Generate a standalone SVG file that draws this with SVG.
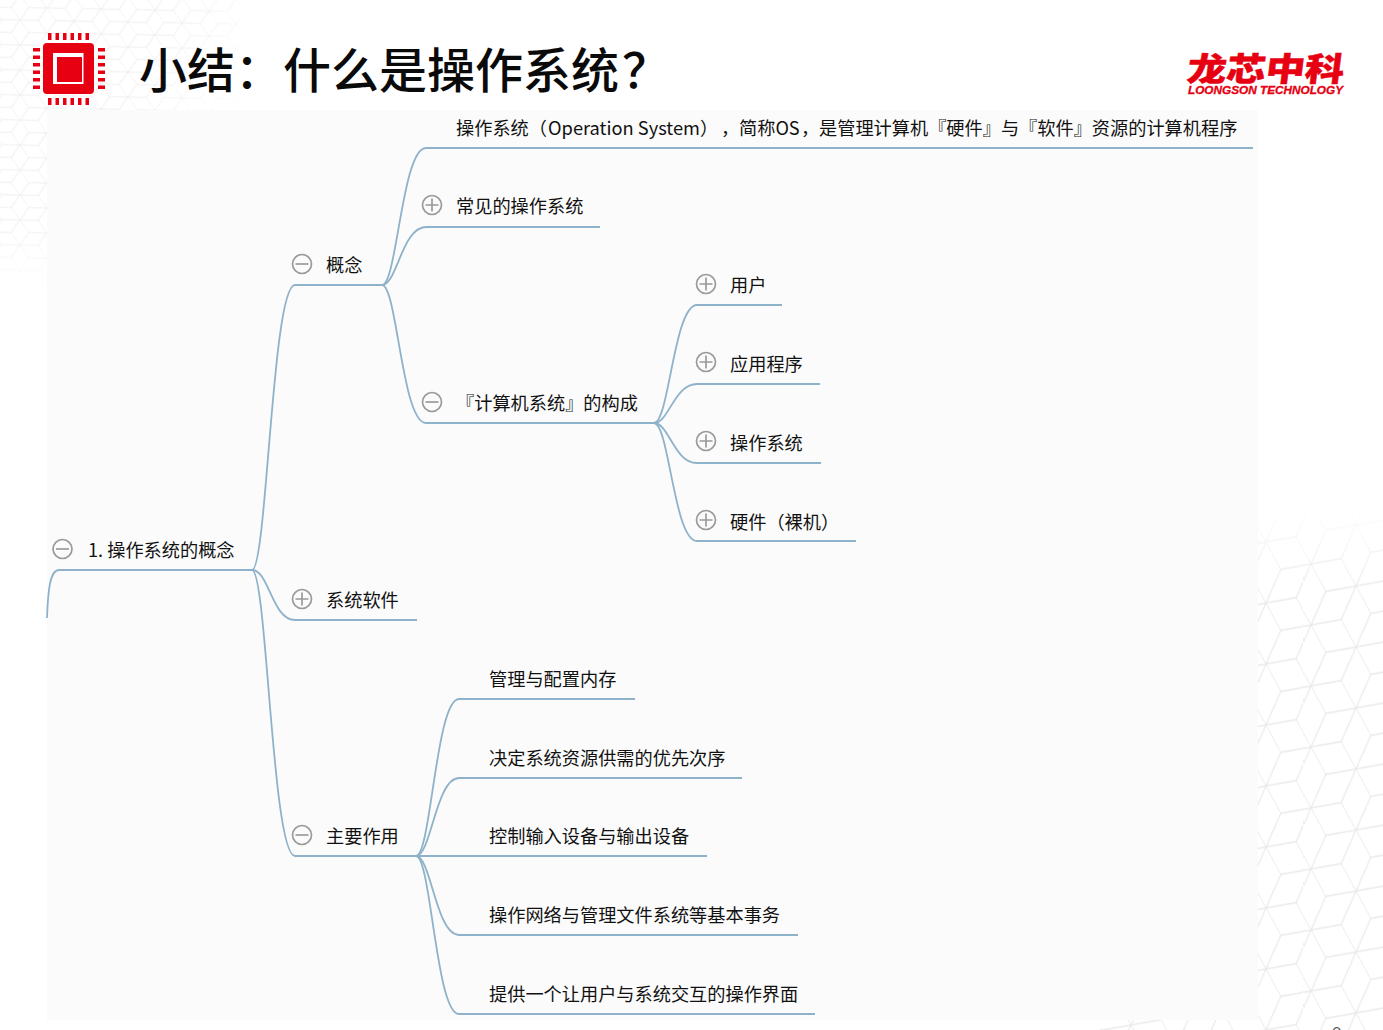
<svg xmlns="http://www.w3.org/2000/svg" width="1383" height="1030" viewBox="0 0 1383 1030">
<style>
text{font-family:"Noto Sans CJK SC","Noto Sans",sans-serif}
.t{font-size:18.2px;fill:#111}
.c{fill:none;stroke:#8fb2cb;stroke-width:1.8}
.i circle{fill:none;stroke:#9a9a9a;stroke-width:1.7}
.i path{fill:none;stroke:#9a9a9a;stroke-width:1.7}
.r{fill:#e60012}
</style>
<defs>
<pattern id="p1" patternUnits="userSpaceOnUse" width="100" height="100" patternTransform="matrix(.45 .22 0 .61 1311 808)">
<path d="M0 0L33 33M100 0L33 33M0 100L33 33M100 0L67 67M0 100L67 67M100 100L67 67" fill="none" stroke="#e9e9e9" stroke-width="2"/>
</pattern>
<pattern id="p2" patternUnits="userSpaceOnUse" width="100" height="100" patternTransform="matrix(.27 .13 0 .25 20 120)">
<path d="M0 0L33 33M100 0L33 33M0 100L33 33M100 0L67 67M0 100L67 67M100 100L67 67" fill="none" stroke="#ececec" stroke-width="3"/>
</pattern>
<linearGradient id="fr" x1="0" y1="505" x2="0" y2="590" gradientUnits="userSpaceOnUse"><stop offset="0" stop-color="#000"/><stop offset="1" stop-color="#fff"/></linearGradient>
<linearGradient id="fl" x1="0" y1="0" x2="240" y2="120" gradientUnits="userSpaceOnUse"><stop offset=".6" stop-color="#fff"/><stop offset="1" stop-color="#000"/></linearGradient>
<linearGradient id="fb" x1="0" y1="230" x2="0" y2="285" gradientUnits="userSpaceOnUse"><stop offset="0" stop-color="#fff"/><stop offset="1" stop-color="#000"/></linearGradient>
<mask id="mr" maskUnits="userSpaceOnUse" x="0" y="0" width="1383" height="1030"><rect x="1100" y="500" width="283" height="530" fill="url(#fr)"/></mask>
<mask id="ml" maskUnits="userSpaceOnUse" x="0" y="0" width="300" height="300"><rect width="240" height="285" fill="url(#fl)"/></mask>
<mask id="mb" maskUnits="userSpaceOnUse" x="0" y="0" width="300" height="300"><rect width="240" height="285" fill="url(#fb)"/></mask>
</defs>
<rect width="1383" height="1030" fill="#fff"/>
<rect x="1100" y="500" width="283" height="530" fill="url(#p1)" mask="url(#mr)"/>
<g mask="url(#mb)"><rect width="240" height="285" fill="url(#p2)" mask="url(#ml)"/></g>
<rect x="47" y="110" width="1211" height="910" fill="#fbfbfb"/>
<text x="1332" y="1040" font-size="18" fill="#666">9</text>

<g id="chip">
<rect class="r" x="43" y="43" width="51" height="51" rx="4"/>
<rect x="53" y="53" width="30.500" height="31" fill="#fff"/>
<rect class="r" x="57" y="57" width="25" height="25"/>
<path class="r" d="M48 33h3.500v7h-3.500zM55.500 33h3.500v7h-3.500zM63 33h3.500v7h-3.500zM70.500 33h3.500v7h-3.500zM78 33h3.500v7h-3.500zM85.500 33h3.500v7h-3.500zM48 98h3.500v7h-3.500zM55.500 98h3.500v7h-3.500zM63 98h3.500v7h-3.500zM70.500 98h3.500v7h-3.500zM78 98h3.500v7h-3.500zM85.500 98h3.500v7h-3.500zM33 48h7v3.500h-7zM33 55.500h7v3.500h-7zM33 63h7v3.500h-7zM33 70.500h7v3.500h-7zM33 78h7v3.500h-7zM33 85.500h7v3.500h-7zM98 48h7v3.500h-7zM98 55.500h7v3.500h-7zM98 63h7v3.500h-7zM98 70.500h7v3.500h-7zM98 78h7v3.500h-7zM98 85.500h7v3.500h-7z"/>
</g>
<text id="title" x="139" y="88" font-size="48" font-weight="500" fill="#0a0a0a">小结&#xFF1A;什么是操作系统<tspan dx="3">&#xFF1F;</tspan></text>
<g id="logo">
<text class="r" stroke="#e60012" stroke-width=".6" font-size="39" font-weight="900" transform="translate(1186 81) scale(1 .84) skewX(-6)" textLength="157" lengthAdjust="spacingAndGlyphs">龙芯中科</text>
<text class="r" stroke="#e60012" stroke-width=".3" x="1188" y="94" font-size="11" font-weight="700" font-style="italic" style="font-family:'Liberation Sans',sans-serif" textLength="155" lengthAdjust="spacingAndGlyphs">LOONGSON TECHNOLOGY</text>
</g>

<g id="connectors" class="c">
<path d="M47 618C48 590 50 570 59 570H252"/>
<path d="M252 570C267 570 272 285 295 285H382"/>
<path d="M252 570C269 570 272 620 295 620H417"/>
<path d="M252 570C267 570 272 856 295 856H416"/>
<path d="M382 285C397 285 402 148 426 148H1253"/>
<path d="M382 285C397 285 402 227 426 227H600"/>
<path d="M382 285C397 285 402 423 426 423H654"/>
<path d="M654 423C669 423 674 305 697 305H782"/>
<path d="M654 423C669 423 674 384 697 384H820"/>
<path d="M654 423C669 423 674 463 697 463H821"/>
<path d="M654 423C669 423 674 541 697 541H856"/>
<path d="M416 856C431 856 436 699 459 699H635"/>
<path d="M416 856C431 856 436 778 459 778H742"/>
<path d="M416 856H707"/>
<path d="M416 856C431 856 436 935 459 935H798"/>
<path d="M416 856C431 856 436 1014 459 1014H815"/>
</g>

<g id="n-root"><g class="i"><circle cx="62.500" cy="549" r="9.500"/><path d="M56 549h13"/></g><text class="t" x="88" y="556.500">1. 操作系统的概念</text></g>
<g id="n-concept"><g class="i"><circle cx="302" cy="264" r="9.500"/><path d="M295.500 264h13"/></g><text class="t" x="326" y="271.500">概念</text></g>
<g id="n-def"><text class="t" x="456" y="134.500">操作系统&#xFF08;<tspan x="548" textLength="152" lengthAdjust="spacingAndGlyphs">Operation System</tspan><tspan x="700">&#xFF09;</tspan><tspan x="721">&#xFF0C;</tspan><tspan x="739">简称OS</tspan><tspan x="801">&#xFF0C;</tspan><tspan x="819">是管理计算机『硬件』与『软件』资源的计算机程序</tspan></text></g>
<g id="n-common"><g class="i"><circle cx="432" cy="205" r="9.500"/><path d="M425.500 205h13M432 198.500v13"/></g><text class="t" x="456" y="212.500">常见的操作系统</text></g>
<g id="n-comp"><g class="i"><circle cx="432" cy="402" r="9.500"/><path d="M425.500 402h13"/></g><text class="t" x="456" y="409.500">『计算机系统』的构成</text></g>
<g id="n-user"><g class="i"><circle cx="706" cy="284" r="9.500"/><path d="M699.500 284h13M706 277.500v13"/></g><text class="t" x="730" y="291.500">用户</text></g>
<g id="n-app"><g class="i"><circle cx="706" cy="362" r="9.500"/><path d="M699.500 362h13M706 355.500v13"/></g><text class="t" x="730" y="370.500">应用程序</text></g>
<g id="n-os"><g class="i"><circle cx="706" cy="441" r="9.500"/><path d="M699.500 441h13M706 434.500v13"/></g><text class="t" x="730" y="449.500">操作系统</text></g>
<g id="n-hw"><g class="i"><circle cx="706" cy="520" r="9.500"/><path d="M699.500 520h13M706 513.500v13"/></g><text class="t" x="730" y="528.500">硬件&#xFF08;裸机&#xFF09;</text></g>
<g id="n-sys"><g class="i"><circle cx="302" cy="599" r="9.500"/><path d="M295.500 599h13M302 592.500v13"/></g><text class="t" x="326" y="607">系统软件</text></g>
<g id="n-main"><g class="i"><circle cx="302" cy="835" r="9.500"/><path d="M295.500 835h13"/></g><text class="t" x="326" y="843">主要作用</text></g>
<g id="n-m1"><text class="t" x="489" y="686">管理与配置内存</text></g>
<g id="n-m2"><text class="t" x="489" y="765">决定系统资源供需的优先次序</text></g>
<g id="n-m3"><text class="t" x="489" y="843">控制输入设备与输出设备</text></g>
<g id="n-m4"><text class="t" x="489" y="922">操作网络与管理文件系统等基本事务</text></g>
<g id="n-m5"><text class="t" x="489" y="1001">提供一个让用户与系统交互的操作界面</text></g>
</svg>
